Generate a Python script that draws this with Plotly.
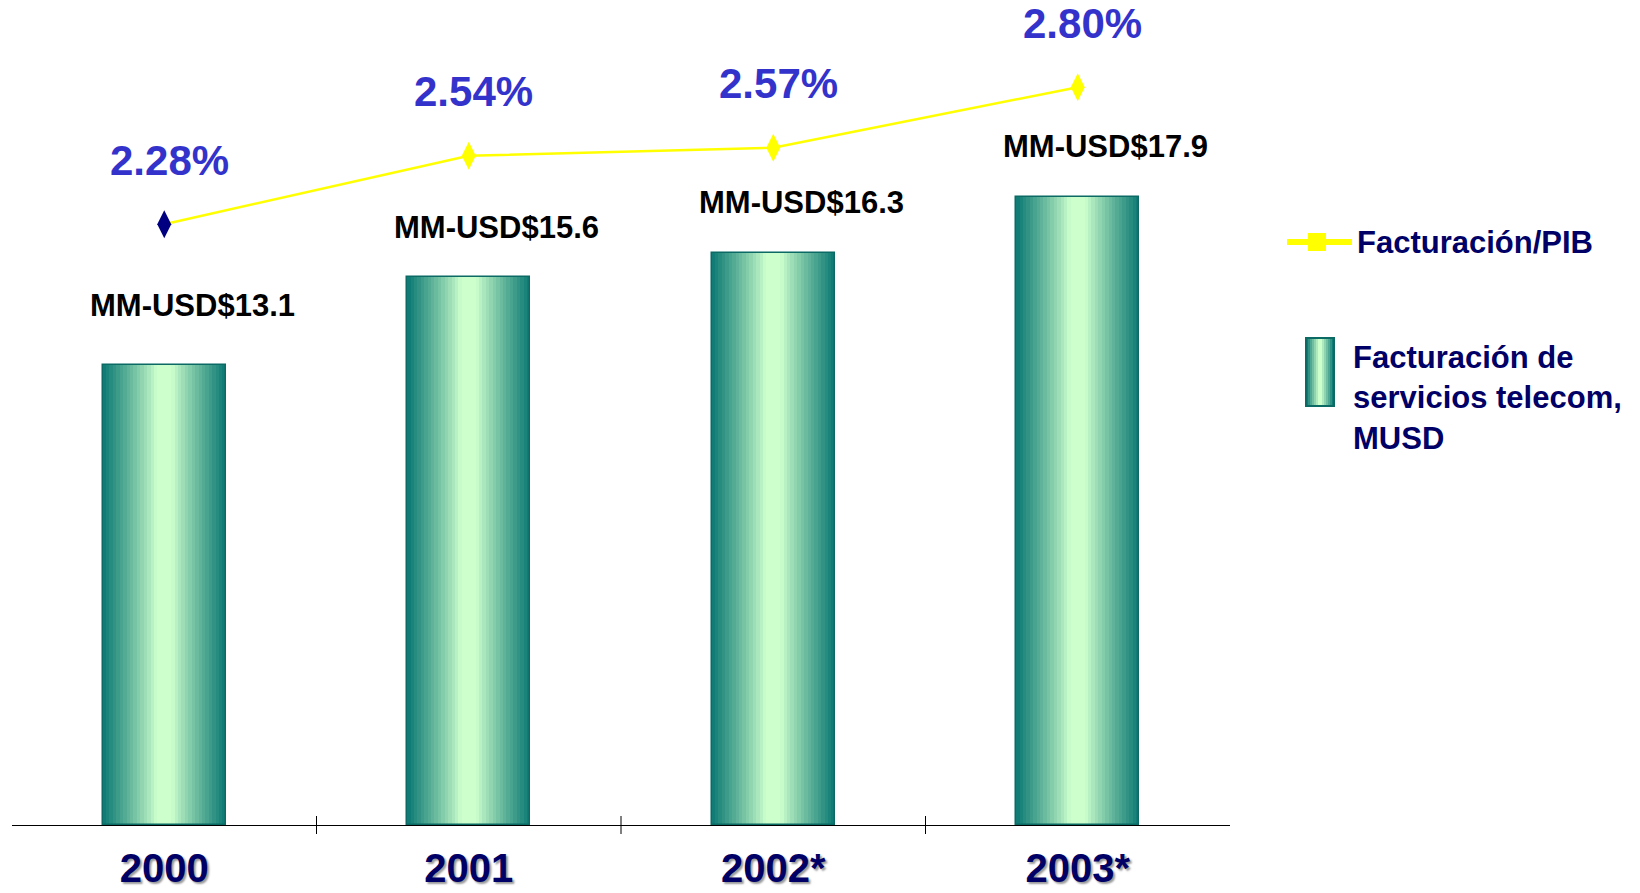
import plotly.graph_objects as go

# ---- data ----
years = ["2000", "2001", "2002*", "2003*"]
billing_musd = [13.1, 15.6, 16.3, 17.9]          # Facturación de servicios telecom (MM-USD)
billing_gdp_pct = [2.28, 2.54, 2.57, 2.80]       # Facturación/PIB (%)
point_colors = ["#000080", "#FFFF00", "#FFFF00", "#FFFF00"]
legend_line = "Facturación/PIB"
legend_bar = "Facturación de<br>servicios telecom,<br>MUSD"

# ---- page geometry ----
W, H = 1640, 893
L, R, T, B = 12, 410, 20, 68
PW, PH = W - L - R, H - T - B


def px(x):
    return (x - L) / PW


def py(y):
    return (H - B - y) / PH


TEAL = (16, 124, 117)
PALE = (204, 255, 204)


def mix(t):
    # t = 0 -> pale centre, t = 1 -> teal edge
    c = [round(p + (q - p) * t) for p, q in zip(PALE, TEAL)]
    return "rgb(%d,%d,%d)" % tuple(c)


FONT = "Liberation Sans, Arial, sans-serif"
NAVY = "#000066"

fig = go.Figure()

# bars: cylinder-like gradient made of stacked, narrowing bars
BAR_W = 0.405
N = 18
for k in range(N):
    u = 1 - k / N
    t = max(0.0, (u - 0.15) / 0.85) ** 0.9
    fig.add_trace(go.Bar(
        x=years, y=billing_musd, width=BAR_W * u,
        marker=dict(color=mix(t), line=dict(width=0)),
        showlegend=False, hoverinfo="skip",
    ))
# outline on top
fig.add_trace(go.Bar(
    x=years, y=billing_musd, width=BAR_W,
    marker=dict(color="rgba(0,0,0,0)", line=dict(width=1.5, color="#0b6b64")),
    showlegend=False, hoverinfo="skip",
))

# ratio line on the secondary axis
fig.add_trace(go.Scatter(
    x=years, y=billing_gdp_pct, yaxis="y2", mode="lines+markers",
    line=dict(color="#FFFF00", width=2.5),
    marker=dict(symbol="diamond-tall", size=20, color=point_colors),
    showlegend=False, hoverinfo="skip",
))

# label offsets above each bar top (px)
bar_label_lift = [60, 50, 50, 50]

annotations = []
for i, v in enumerate(billing_musd):
    annotations.append(dict(
        x=i, y=v, xref="x", yref="y", text="MM-USD$%.1f" % v,
        showarrow=False, xshift=28, yshift=bar_label_lift[i],
        font=dict(family=FONT, size=31, color="#000000", weight="bold"),
    ))
for i, p in enumerate(billing_gdp_pct):
    annotations.append(dict(
        x=i, y=p, xref="x", yref="y2", text="%.2f%%" % p,
        showarrow=False, xshift=5, yshift=64,
        font=dict(family=FONT, size=42, color="#3333CC", weight="bold"),
    ))

# legend text
annotations.append(dict(
    x=px(1355), y=py(242), xref="paper", yref="paper", text=legend_line,
    showarrow=False, xanchor="left", yanchor="middle",
    font=dict(family=FONT, size=31, color=NAVY, weight="bold"),
))
annotations.append(dict(
    x=px(1351), y=py(398), xref="paper", yref="paper", text=legend_bar,
    showarrow=False, xanchor="left", yanchor="middle", align="left",
    font=dict(family=FONT, size=31, color=NAVY, weight="bold"),
))

shapes = []
# category boundary ticks crossing the axis line
for b in [0.5, 1.5, 2.5]:
    shapes.append(dict(type="line", xref="x", yref="paper", x0=b, x1=b,
                       y0=py(834), y1=py(816), line=dict(color="#000", width=1)))
# legend symbols
shapes.append(dict(type="line", xref="paper", yref="paper", x0=px(1287), x1=px(1352),
                   y0=py(242), y1=py(242), line=dict(color="#FFFF00", width=6)))
shapes.append(dict(type="rect", xref="paper", yref="paper", x0=px(1308), x1=px(1326),
                   y0=py(251), y1=py(233), fillcolor="#FFFF00", line=dict(width=0)))
lx0, lx1, ly0, ly1 = 1306, 1334, 406, 338
M = 7
for k in range(M):
    u = 1 - k / M
    t = max(0.0, (u - 0.15) / 0.85)
    half = (lx1 - lx0) / 2 * u
    c = (lx0 + lx1) / 2
    shapes.append(dict(type="rect", xref="paper", yref="paper",
                       x0=px(c - half), x1=px(c + half), y0=py(ly0), y1=py(ly1),
                       fillcolor=mix(t), line=dict(width=0)))
shapes.append(dict(type="rect", xref="paper", yref="paper", x0=px(lx0), x1=px(lx1),
                   y0=py(ly0), y1=py(ly1), line=dict(color="#0b6b64", width=2)))

fig.update_layout(
    width=W, height=H,
    margin=dict(l=L, r=R, t=T, b=B, autoexpand=False),
    paper_bgcolor="white", plot_bgcolor="white",
    barmode="overlay", bargap=0,
    showlegend=False,
    xaxis=dict(
        type="category", range=[-0.5, 3.5], showline=True, linecolor="#000",
        linewidth=1, ticks="", showgrid=False, zeroline=False, automargin=False,
        ticklabelstandoff=8,
        tickfont=dict(family=FONT, size=40, color=NAVY, weight="bold",
                      shadow="2px 2px 2px #9a9a9a"),
    ),
    yaxis=dict(range=[0, PH / 35.1], visible=False, showgrid=False, zeroline=False),
    yaxis2=dict(range=[0, PH / 263.5], overlaying="y", visible=False,
                showgrid=False, zeroline=False),
    annotations=annotations,
    shapes=shapes,
)

# drop the browser's default 8px body margin so the figure sits at the page origin
fig.write_html("out.html", config={"displayModeBar": False},
               post_script="document.body.style.margin='0px';")
